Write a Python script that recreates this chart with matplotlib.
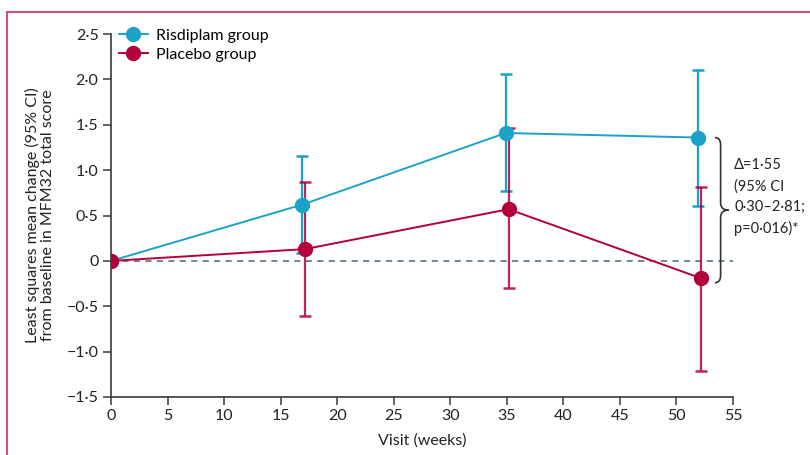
import numpy as np
import matplotlib.pyplot as plt
from matplotlib.path import Path
from matplotlib.patches import PathPatch
from matplotlib.lines import Line2D

plt.rcParams['font.family'] = ['Lato', 'DejaVu Sans']

# data
weeks = [0, 17, 35, 52]
risdiplam_mean = [0, 0.62, 1.41, 1.36]
risdiplam_lo = [0, 0.09, 0.77, 0.61]
risdiplam_hi = [0, 1.16, 2.06, 2.11]
placebo_mean = [0, 0.13, 0.57, -0.19]
placebo_lo = [0, -0.61, -0.30, -1.21]
placebo_hi = [0, 0.87, 1.46, 0.82]
xticks = list(range(0, 60, 5))
yticks = [-1.5, -1.0, -0.5, 0, 0.5, 1.0, 1.5, 2.0, 2.5]
ytick_labels = ['\u22121\u00b75', '\u22121\u00b70', '\u22120\u00b75', '0', '0\u00b75',
                '1\u00b70', '1\u00b75', '2\u00b70', '2\u00b75']
delta_text = '\u0394=1\u00b755\n(95% CI\n0\u00b730\u20132\u00b781;\np=0\u00b7016)*'

c_ris = '#1ba3c7'
c_pla = '#b3003b'
axcol = '#3a3a3a'
txtcol = '#222222'
fs = 11.5

fig = plt.figure(figsize=(8.1, 4.55), dpi=100)
ax = fig.add_axes([0.137, 0.1275, 0.768, 0.7975])

x = np.array(weeks, dtype=float)
x_r = x.copy()
x_p = x.copy()
x_r[1:] -= 0.1
x_p[1:] += 0.15

rm = np.array(risdiplam_mean)
pm = np.array(placebo_mean)
r_err = [rm - np.array(risdiplam_lo), np.array(risdiplam_hi) - rm]
p_err = [pm - np.array(placebo_lo), np.array(placebo_hi) - pm]

ax.axhline(0, color='#4a6878', lw=1.1, ls=(0, (4, 3.5)), zorder=1)

ax.errorbar(x_r[1:], rm[1:], yerr=[r_err[0][1:], r_err[1][1:]], fmt='none',
            ecolor=c_ris, elinewidth=1.6, capsize=4.3, capthick=1.8, zorder=2)
ax.errorbar(x_p[1:], pm[1:], yerr=[p_err[0][1:], p_err[1][1:]], fmt='none',
            ecolor=c_pla, elinewidth=1.6, capsize=4.3, capthick=1.8, alpha=0.85, zorder=3)
ax.plot(x_r, rm, color=c_ris, lw=1.4, marker='o', ms=10, zorder=4)
ax.plot(x_p, pm, color=c_pla, lw=1.4, marker='o', ms=10, zorder=5)

ax.set_xlim(0, 55)
ax.set_ylim(-1.5, 2.5)
ax.set_xticks(xticks)
ax.set_yticks(yticks)
ax.set_yticklabels(ytick_labels)
for s in ['top', 'right']:
    ax.spines[s].set_visible(False)
for s in ['left', 'bottom']:
    ax.spines[s].set_color(axcol)
    ax.spines[s].set_linewidth(1.2)
ax.tick_params(colors=axcol, labelcolor=txtcol, labelsize=fs, length=6, width=1.1, pad=3)
ax.set_xlabel('Visit (weeks)', fontsize=fs, color=txtcol, labelpad=7)
ax.set_ylabel('Least squares mean change (95% CI)\nfrom baseline in MFM32 total score',
              fontsize=fs, color=txtcol, labelpad=8, linespacing=1.15)

handles = [Line2D([], [], color=c_ris, lw=1.4, marker='o', ms=10),
           Line2D([], [], color=c_pla, lw=1.4, marker='o', ms=10)]
ax.legend(handles, ['Risdiplam group', 'Placebo group'], loc='upper left',
          bbox_to_anchor=(-0.008, 1.05), frameon=False, fontsize=fs,
          handlelength=1.8, handletextpad=0.5, labelspacing=0.3, borderpad=0.3)

# curly brace to the right of the week-52 points
top, bot = risdiplam_mean[3], -0.24
mid = (top + bot) / 2
x0, x1, x2 = 53.4, 53.9, 54.6
h = 0.08
verts = [(x0, top), (x1, top), (x1, top - h),
         (x1, mid + h),
         (x1, mid), (x2, mid),
         (x1, mid), (x1, mid - h),
         (x1, bot + h),
         (x1, bot), (x0, bot)]
codes = [Path.MOVETO, Path.CURVE3, Path.CURVE3,
         Path.LINETO,
         Path.CURVE3, Path.CURVE3,
         Path.CURVE3, Path.CURVE3,
         Path.LINETO,
         Path.CURVE3, Path.CURVE3]
ax.add_patch(PathPatch(Path(verts, codes), fill=False, ec='#333333', lw=1.2, clip_on=False))
ax.text(55.1, 0.7, delta_text, fontsize=10.5, color=txtcol, va='center', ha='left',
        linespacing=1.6)

# frame of the panel
fig.add_artist(Line2D([7 / 810, 1], [1 - 12 / 455] * 2, transform=fig.transFigure,
                      color='#c8557a', lw=1.5))
fig.add_artist(Line2D([7 / 810] * 2, [0, 1 - 12 / 455], transform=fig.transFigure,
                      color='#c8557a', lw=1.5))

fig.savefig('out.png', dpi=100, facecolor='w')
plt.close()
